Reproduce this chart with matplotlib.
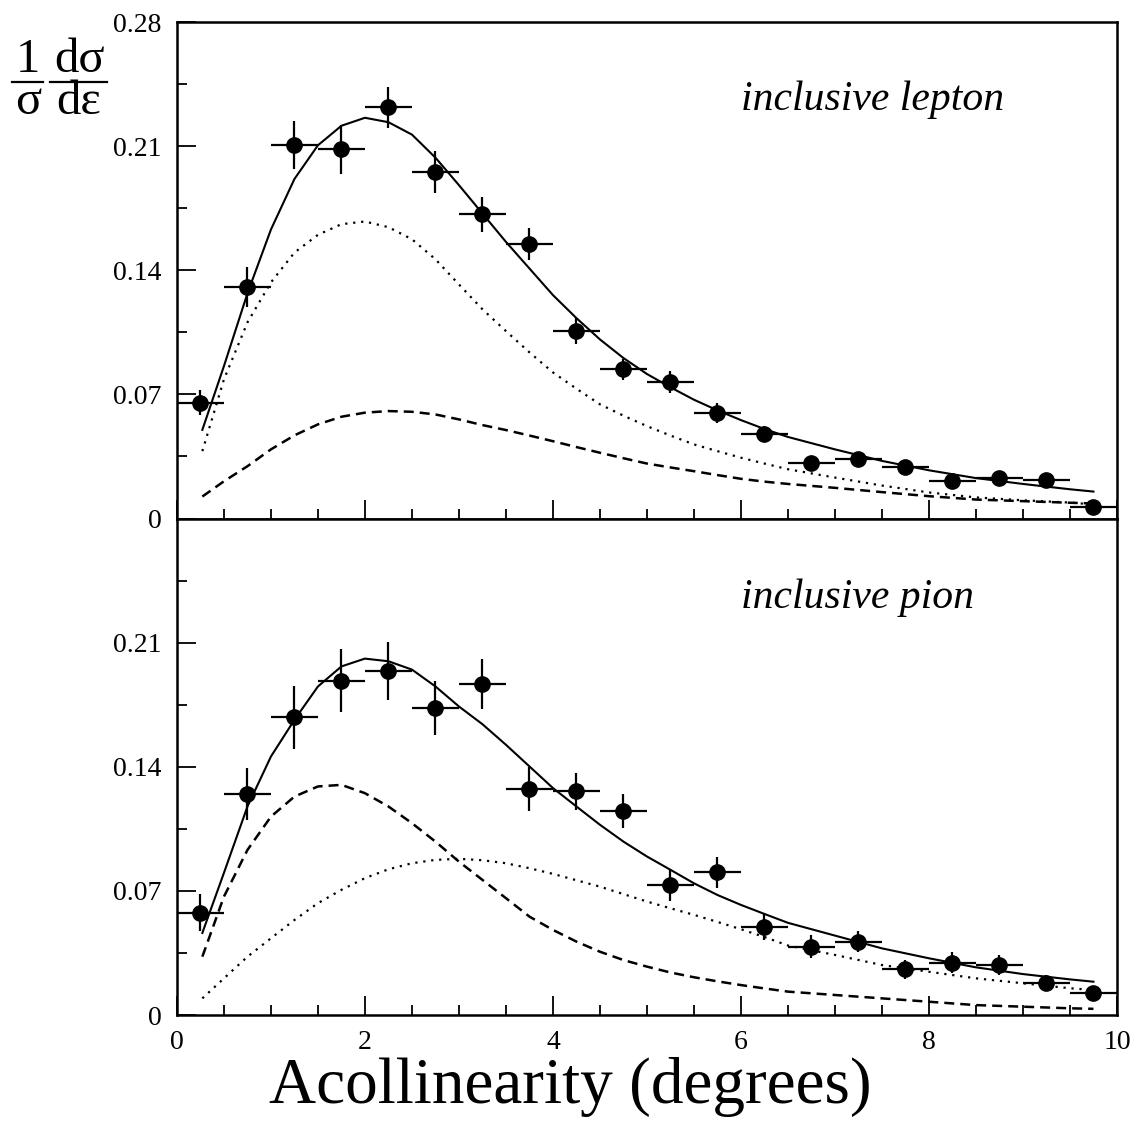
import numpy as np
import matplotlib
matplotlib.use('Agg')
import matplotlib.pyplot as plt
from matplotlib.lines import Line2D
from matplotlib.ticker import MultipleLocator

plt.rcParams['font.family'] = ['Liberation Serif', 'DejaVu Serif']

# bin centres and half widths (bins of 0.5 degree)
x_bins = [0.25, 0.75, 1.25, 1.75, 2.25, 2.75, 3.25, 3.75, 4.25, 4.75,
          5.25, 5.75, 6.25, 6.75, 7.25, 7.75, 8.25, 8.75, 9.25, 9.75]
x_half = [0.25] * 20

# inclusive lepton data
lep_y = [0.0653, 0.1308, 0.2106, 0.2083, 0.2318, 0.1955, 0.1716, 0.1547, 0.1057, 0.0841,
         0.0770, 0.0597, 0.0474, 0.0314, 0.0337, 0.0292, 0.0211, 0.0226, 0.0215, 0.0066]
lep_err = [0.007, 0.0113, 0.0137, 0.0138, 0.0118, 0.0118, 0.0099, 0.009, 0.0075, 0.006,
           0.006, 0.0056, 0.0045, 0.004, 0.004, 0.0038, 0.0035, 0.0035, 0.0035, 0.003]

# inclusive pion data
pi_y = [0.0578, 0.1248, 0.1680, 0.1885, 0.1942, 0.1731, 0.1867, 0.1274, 0.1261, 0.1152,
        0.0734, 0.0806, 0.0499, 0.0386, 0.0414, 0.0258, 0.0295, 0.0282, 0.0179, 0.0126]
pi_err = [0.0103, 0.0146, 0.0177, 0.0177, 0.0163, 0.0153, 0.0141, 0.0122, 0.0103, 0.0096,
          0.009, 0.0088, 0.0075, 0.0066, 0.006, 0.0054, 0.006, 0.0056, 0.0045, 0.004]

# curves
cx = [0.27, 0.5, 0.75, 1.0, 1.25, 1.5, 1.75, 2.0, 2.25, 2.5, 2.75, 3.0, 3.25, 3.5, 3.75,
      4.0, 4.25, 4.5, 4.75, 5.0, 5.25, 5.5, 5.75, 6.0, 6.25, 6.5, 7.0, 7.5, 8.0, 8.5,
      9.0, 9.5, 9.75]

lep_total = [0.050, 0.086, 0.127, 0.163, 0.1915, 0.2105, 0.2215, 0.226, 0.2235, 0.2165,
             0.2035, 0.188, 0.172, 0.156, 0.141, 0.126, 0.113, 0.101, 0.0905, 0.0815,
             0.074, 0.067, 0.061, 0.0555, 0.0505, 0.046, 0.039, 0.0325, 0.0272, 0.0228,
             0.0195, 0.0165, 0.0152]
lep_dotted = [0.038, 0.0785, 0.1106, 0.1332, 0.150, 0.160, 0.166, 0.1675, 0.1643, 0.1575,
              0.1462, 0.132, 0.118, 0.1057, 0.0937, 0.0824, 0.0732, 0.0644, 0.058, 0.0521,
              0.0468, 0.0418, 0.038, 0.0343, 0.031, 0.0278, 0.0231, 0.0186, 0.0147, 0.0119,
              0.0103, 0.009, 0.0079]
lep_dashed = [0.0124, 0.021, 0.0295, 0.039, 0.0469, 0.0531, 0.0574, 0.0597, 0.0606, 0.0602,
              0.0587, 0.0559, 0.0527, 0.0499, 0.0468, 0.0436, 0.0403, 0.0371, 0.034, 0.031,
              0.0288, 0.0267, 0.0245, 0.0224, 0.0208, 0.0195, 0.0173, 0.0149, 0.0126, 0.0107,
              0.0098, 0.0089, 0.0085]

pi_total = [0.0463, 0.0802, 0.1176, 0.1458, 0.1665, 0.1853, 0.1966, 0.201, 0.1995, 0.1948,
            0.1853, 0.174, 0.164, 0.1524, 0.1402, 0.128, 0.1176, 0.1073, 0.0978, 0.0894,
            0.0819, 0.0743, 0.0677, 0.0621, 0.057, 0.052, 0.0448, 0.0376, 0.032, 0.0269,
            0.0231, 0.0201, 0.0188]
pi_dashed = [0.0329, 0.0668, 0.0931, 0.1119, 0.1232, 0.1289, 0.1298, 0.1251, 0.1176, 0.1082,
             0.0978, 0.0865, 0.0762, 0.0659, 0.0555, 0.048, 0.0414, 0.0357, 0.031, 0.0273,
             0.024, 0.0213, 0.019, 0.0169, 0.015, 0.0132, 0.0113, 0.0094, 0.0075, 0.0056,
             0.0047, 0.0038, 0.0035]
pi_dotted = [0.0094, 0.0207, 0.0329, 0.0433, 0.0536, 0.0631, 0.0706, 0.0772, 0.0822, 0.0856,
             0.0875, 0.0881, 0.0873, 0.0856, 0.0828, 0.0796, 0.076, 0.0724, 0.0682, 0.064,
             0.0602, 0.0565, 0.0525, 0.0484, 0.0440, 0.0392, 0.0339, 0.0282, 0.0244, 0.0207,
             0.0179, 0.0151, 0.0141]

W, H = 1138, 1135
fig, (ax1, ax2) = plt.subplots(2, 1, sharex=True, figsize=(W / 100, H / 100), dpi=100)
fig.subplots_adjust(left=0.1555, right=0.9815, top=0.9806, bottom=0.1057, hspace=0)

dots = (0, (1, 2.6))
dashes = (0, (4, 2.4))

def draw(ax, y, err, total, dotted, dashed):
    ax.plot(cx, total, color='black', lw=1.5, ls='-')
    ax.plot(cx, dotted, color='black', lw=1.6, ls=dots)
    ax.plot(cx, dashed, color='black', lw=1.8, ls=dashes)
    ax.errorbar(x_bins, y, xerr=x_half, yerr=err, fmt='o', color='black',
                ms=11, elinewidth=1.6, capsize=0)
    ax.set_xlim(0, 10)
    ax.set_ylim(0, 0.28)
    ax.xaxis.set_major_locator(MultipleLocator(2))
    ax.xaxis.set_minor_locator(MultipleLocator(0.5))
    ax.yaxis.set_major_locator(MultipleLocator(0.07))
    ax.yaxis.set_minor_locator(MultipleLocator(0.035))
    ax.tick_params(which='both', direction='in', top=False, right=False,
                   labelsize=20, width=1.3)
    ax.tick_params(which='major', length=14, pad=11)
    ax.tick_params(which='minor', length=7)
    for s in ax.spines.values():
        s.set_linewidth(1.8)

draw(ax1, lep_y, lep_err, lep_total, lep_dotted, lep_dashed)
draw(ax2, pi_y, pi_err, pi_total, pi_dotted, pi_dashed)

ax1.set_yticks([0, 0.07, 0.14, 0.21, 0.28])
ax1.set_yticklabels(['0', '0.07', '0.14', '0.21', '0.28'])
ax2.set_yticks([0, 0.07, 0.14, 0.21])
ax2.set_yticklabels(['0', '0.07', '0.14', '0.21'])
ax2.set_xticks([0, 2, 4, 6, 8, 10])
ax2.set_xticklabels(['0', '2', '4', '6', '8', '10'])

ax1.text(0.6, 0.843, 'inclusive lepton', transform=ax1.transAxes,
         fontsize=30, style='italic', ha='left', va='center')
ax2.text(0.6, 0.84, 'inclusive pion', transform=ax2.transAxes,
         fontsize=30, style='italic', ha='left', va='center')

fig.text(0.501, 1 - 1103 / H, 'Acollinearity (degrees)', fontsize=47,
         ha='center', va='baseline')

# y label: (1/sigma) dsigma/depsilon as two stacked columns with fraction bars
fs = 35
fig.text(28 / W, 1 - 81 / H, '1\nσ', fontsize=fs, ha='center', va='center',
         multialignment='center', linespacing=0.97)
fig.text(79 / W, 1 - 81 / H, 'dσ\ndε', fontsize=fs, ha='center', va='center',
         multialignment='center', linespacing=0.97)
fig.add_artist(Line2D([12 / W, 43 / W], [1 - 82 / H] * 2, color='black', lw=1.6))
fig.add_artist(Line2D([50 / W, 107 / W], [1 - 82 / H] * 2, color='black', lw=1.6))

fig.savefig('out.png', dpi=100)
